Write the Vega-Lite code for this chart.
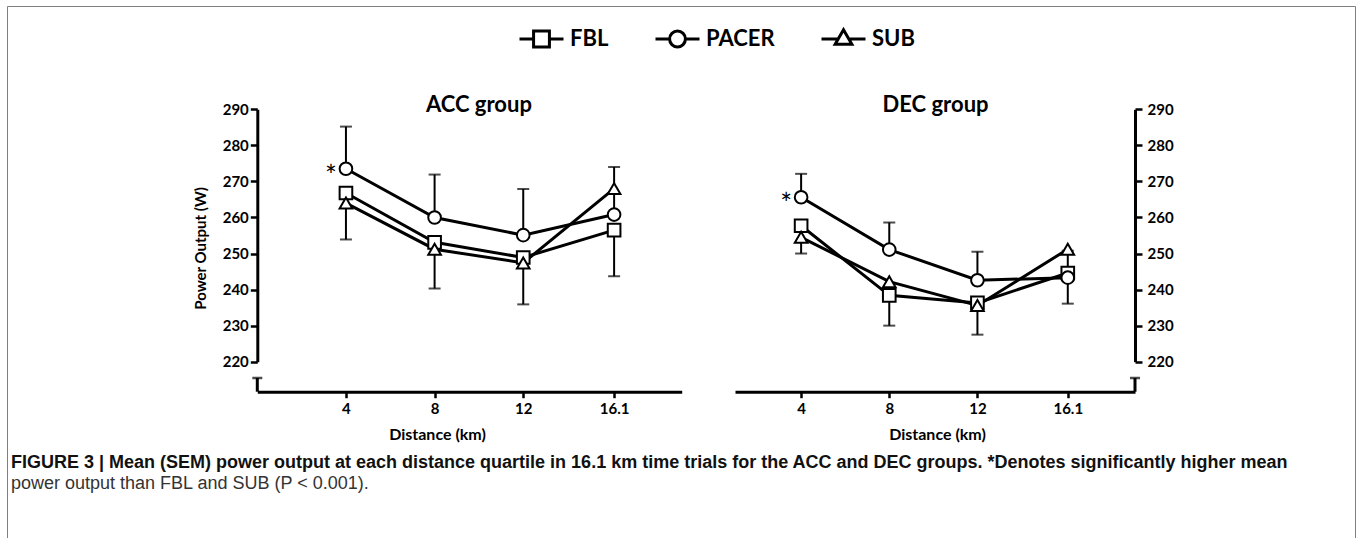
{
  "$schema": "https://vega.github.io/schema/vega-lite/v6.json",
  "autosize": {"type": "none"},
  "padding": {"left": 7, "top": 6, "right": 2, "bottom": 0},
  "width": 1348,
  "height": 532,
  "background": "white",
  "config": {
    "view": {"stroke": "#7f7f7f", "strokeWidth": 1},
    "font": "Lato",
    "axis": {
      "grid": false, "domainColor": "black", "domainWidth": 3, "tickColor": "black", "tickWidth": 2.5,
      "labelColor": "black", "labelFont": "Lato", "labelFontSize": 15, "labelFontWeight": "bold",
      "titleColor": "black", "titleFont": "Lato", "titleFontWeight": "bold", "titleFontSize": 15,
      "labelOverlap": false, "labelFlush": false
    }
  },
  "title": {
    "text": "FIGURE 3 | Mean (SEM) power output at each distance quartile in 16.1 km time trials for the ACC and DEC groups. *Denotes significantly higher mean",
    "subtitle": "power output than FBL and SUB (P < 0.001).",
    "orient": "bottom", "anchor": "start", "frame": "group", "offset": -84, "dx": 4,
    "font": "Liberation Sans", "fontSize": 18, "fontWeight": "bold", "color": "#111111",
    "subtitleFont": "Liberation Sans", "subtitleFontSize": 18, "subtitleColor": "#333333", "subtitlePadding": 3
  },
  "datasets": {
    "pw": [
      {"group": "ACC", "series": "FBL", "dist": 4, "power": 266.8, "err": 253.9},
      {"group": "ACC", "series": "FBL", "dist": 8, "power": 253.1, "err": 240.3},
      {"group": "ACC", "series": "FBL", "dist": 12, "power": 248.9, "err": 235.9},
      {"group": "ACC", "series": "FBL", "dist": 16.1, "power": 256.5, "err": 243.7},
      {"group": "ACC", "series": "PACER", "dist": 4, "power": 273.5, "err": 285.2, "note": "*"},
      {"group": "ACC", "series": "PACER", "dist": 8, "power": 260.0, "err": 271.9},
      {"group": "ACC", "series": "PACER", "dist": 12, "power": 255.1, "err": 267.9},
      {"group": "ACC", "series": "PACER", "dist": 16.1, "power": 260.8, "err": 274.0},
      {"group": "ACC", "series": "SUB", "dist": 4, "power": 264.0},
      {"group": "ACC", "series": "SUB", "dist": 8, "power": 251.2},
      {"group": "ACC", "series": "SUB", "dist": 12, "power": 247.4},
      {"group": "ACC", "series": "SUB", "dist": 16.1, "power": 268.0},
      {"group": "DEC", "series": "FBL", "dist": 4, "power": 257.7, "err": 250.0},
      {"group": "DEC", "series": "FBL", "dist": 8, "power": 238.4, "err": 230.0},
      {"group": "DEC", "series": "FBL", "dist": 12, "power": 236.3, "err": 227.5},
      {"group": "DEC", "series": "FBL", "dist": 16.1, "power": 244.6, "err": 236.1},
      {"group": "DEC", "series": "PACER", "dist": 4, "power": 265.6, "err": 272.1, "note": "*"},
      {"group": "DEC", "series": "PACER", "dist": 8, "power": 251.1, "err": 258.6},
      {"group": "DEC", "series": "PACER", "dist": 12, "power": 242.6, "err": 250.5},
      {"group": "DEC", "series": "PACER", "dist": 16.1, "power": 243.3, "err": 250.8},
      {"group": "DEC", "series": "SUB", "dist": 4, "power": 254.5},
      {"group": "DEC", "series": "SUB", "dist": 8, "power": 242.2},
      {"group": "DEC", "series": "SUB", "dist": 12, "power": 235.6},
      {"group": "DEC", "series": "SUB", "dist": 16.1, "power": 251.2}
    ]
  },
  "layer": [
    {
      "data": {"name": "pw"},
      "transform": [{"filter": {"field": "group", "equal": "ACC"}}],
      "layer": [
        {
          "transform": [{"filter": {"field": "err", "valid": true}}],
          "mark": {"type": "rule", "stroke": "black", "strokeWidth": 2},
          "encoding": {
            "x": {"field": "dist", "type": "quantitative",
              "scale": {"domain": [0, 19.15], "range": [250.3, 674.7], "nice": false, "zero": false},
              "axis": {"orient": "bottom", "offset": -146.3, "values": [4, 8, 12, 16.1], "format": "~g",
                "tickSize": 6, "labelPadding": 4, "title": "Distance (km)", "titlePadding": 10, "titleX": 430, "titleFontSize": 16}},
            "y": {"field": "power", "type": "quantitative",
              "scale": {"domain": [220, 290], "range": [355.7, 103.3], "nice": false, "zero": false},
              "axis": {"orient": "left", "offset": -250.3, "values": [220, 230, 240, 250, 260, 270, 280, 290],
                "tickSize": 7, "labelPadding": 2, "title": "Power Output (W)", "titlePadding": 14, "titleY": 242}},
            "y2": {"field": "err"}
          }
        },
        {
          "transform": [{"filter": {"field": "err", "valid": true}}],
          "mark": {"type": "tick", "orient": "horizontal", "size": 12, "thickness": 2, "color": "black"},
          "encoding": {
            "x": {"field": "dist", "type": "quantitative"},
            "y": {"field": "err", "type": "quantitative"}
          }
        },
        {
          "mark": {"type": "line", "stroke": "black", "strokeWidth": 3},
          "encoding": {
            "x": {"field": "dist", "type": "quantitative"},
            "y": {"field": "power", "type": "quantitative"},
            "detail": {"field": "series"}
          }
        },
        {
          "mark": {"type": "point", "filled": false, "fill": "white", "stroke": "black", "strokeWidth": 2, "size": 160, "opacity": 1},
          "encoding": {
            "x": {"field": "dist", "type": "quantitative"},
            "y": {"field": "power", "type": "quantitative"},
            "shape": {"field": "series", "type": "nominal",
              "scale": {"domain": ["FBL", "PACER", "SUB"], "range": ["square", "circle", "triangle-up"]}, "legend": null}
          }
        },
        {
          "transform": [{"filter": {"field": "note", "equal": "*"}}],
          "mark": {"type": "text", "fontSize": 28, "font": "Lato", "color": "black", "dx": -15, "dy": 9},
          "encoding": {
            "x": {"field": "dist", "type": "quantitative"},
            "y": {"field": "power", "type": "quantitative"},
            "text": {"field": "note"}
          }
        },
        {
          "data": {"values": [{"t": "ACC group"}]},
          "mark": {"type": "text", "fontSize": 22, "fontWeight": "bold", "font": "Lato", "baseline": "alphabetic", "align": "center", "color": "black"},
          "encoding": {"x": {"datum": 10}, "y": {"datum": 289.3}, "text": {"field": "t"}}
        },
        {
          "data": {"values": [{}]},
          "mark": {"type": "rule", "strokeWidth": 3, "color": "black"},
          "encoding": {"x": {"datum": 0}, "y": {"datum": 211.68}, "y2": {"datum": 215.48}}
        },
        {
          "data": {"values": [{}]},
          "mark": {"type": "tick", "orient": "horizontal", "size": 10, "thickness": 2.5, "color": "black"},
          "encoding": {"x": {"datum": 0}, "y": {"datum": 215.48}}
        }
      ]
    },
    {
      "data": {"name": "pw"},
      "transform": [{"filter": {"field": "group", "equal": "DEC"}}],
      "layer": [
        {
          "transform": [{"filter": {"field": "err", "valid": true}}],
          "mark": {"type": "rule", "stroke": "black", "strokeWidth": 2},
          "encoding": {
            "x": {"field": "dist", "type": "quantitative",
              "scale": {"domain": [1, 19.15], "range": [728, 1128], "nice": false, "zero": false},
              "axis": {"orient": "bottom", "offset": -146.3, "values": [4, 8, 12, 16.1], "format": "~g",
                "tickSize": 6, "labelPadding": 4, "title": "Distance (km)", "titlePadding": 10, "titleX": 930, "titleFontSize": 16}},
            "y": {"field": "power", "type": "quantitative",
              "scale": {"domain": [220, 290], "range": [355.7, 103.3], "nice": false, "zero": false},
              "axis": {"orient": "right", "offset": -220, "values": [220, 230, 240, 250, 260, 270, 280, 290],
                "tickSize": 7, "labelPadding": 5, "title": null}},
            "y2": {"field": "err"}
          }
        },
        {
          "transform": [{"filter": {"field": "err", "valid": true}}],
          "mark": {"type": "tick", "orient": "horizontal", "size": 12, "thickness": 2, "color": "black"},
          "encoding": {
            "x": {"field": "dist", "type": "quantitative"},
            "y": {"field": "err", "type": "quantitative"}
          }
        },
        {
          "mark": {"type": "line", "stroke": "black", "strokeWidth": 3},
          "encoding": {
            "x": {"field": "dist", "type": "quantitative"},
            "y": {"field": "power", "type": "quantitative"},
            "detail": {"field": "series"}
          }
        },
        {
          "mark": {"type": "point", "filled": false, "fill": "white", "stroke": "black", "strokeWidth": 2, "size": 160, "opacity": 1},
          "encoding": {
            "x": {"field": "dist", "type": "quantitative"},
            "y": {"field": "power", "type": "quantitative"},
            "shape": {"field": "series", "type": "nominal",
              "scale": {"domain": ["FBL", "PACER", "SUB"], "range": ["square", "circle", "triangle-up"]}, "legend": null}
          }
        },
        {
          "transform": [{"filter": {"field": "note", "equal": "*"}}],
          "mark": {"type": "text", "fontSize": 28, "font": "Lato", "color": "black", "dx": -15, "dy": 9},
          "encoding": {
            "x": {"field": "dist", "type": "quantitative"},
            "y": {"field": "power", "type": "quantitative"},
            "text": {"field": "note"}
          }
        },
        {
          "data": {"values": [{"t": "DEC group"}]},
          "mark": {"type": "text", "fontSize": 22, "fontWeight": "bold", "font": "Lato", "baseline": "alphabetic", "align": "center", "color": "black"},
          "encoding": {"x": {"datum": 10.1}, "y": {"datum": 289.3}, "text": {"field": "t"}}
        },
        {
          "data": {"values": [{}]},
          "mark": {"type": "rule", "strokeWidth": 3, "color": "black"},
          "encoding": {"x": {"datum": 19.15}, "y": {"datum": 211.68}, "y2": {"datum": 215.48}}
        },
        {
          "data": {"values": [{}]},
          "mark": {"type": "tick", "orient": "horizontal", "size": 10, "thickness": 2.5, "color": "black"},
          "encoding": {"x": {"datum": 19.15}, "y": {"datum": 215.48}}
        }
      ]
    },
    {
      "data": {"values": [{"series": "FBL"}, {"series": "PACER"}, {"series": "SUB"}]},
      "transform": [{"filter": {"field": "series", "equal": "none"}}],
      "mark": {"type": "point", "size": 1936, "strokeWidth": 3, "filled": false},
      "encoding": {
        "stroke": {"value": "black"},
        "fill": {"value": "white"},
        "opacity": {"value": 1},
        "shape": {"field": "series", "type": "nominal",
          "scale": {"domain": ["FBL", "PACER", "SUB"], "range": [
            "M-1,0H-0.36M0.36,0H1M-0.36,-0.36H0.36V0.36H-0.36Z",
            "M-1,0H-0.36M0.36,0H1M-0.36,0A0.36,0.36,0,1,1,0.36,0A0.36,0.36,0,1,1,-0.36,0Z",
            "M-1,0H-0.24M0.24,0H1M-0.38,0.24L0.38,0.24L0,-0.42Z"
          ]},
          "legend": {"orient": "none", "legendX": 511, "legendY": 9.5, "direction": "horizontal", "title": null,
            "symbolSize": 1936, "symbolStrokeWidth": 3, "symbolOpacity": 1,
            "labelFont": "Lato", "labelFontSize": 22, "labelFontWeight": "bold", "labelColor": "black", "labelOffset": 5,
            "columnPadding": 40, "gridAlign": "none"}
        }
      }
    }
  ],
  "resolve": {
    "scale": {"x": "independent", "y": "independent", "shape": "independent"},
    "axis": {"x": "independent", "y": "independent"},
    "legend": {"shape": "independent"}
  }
}
